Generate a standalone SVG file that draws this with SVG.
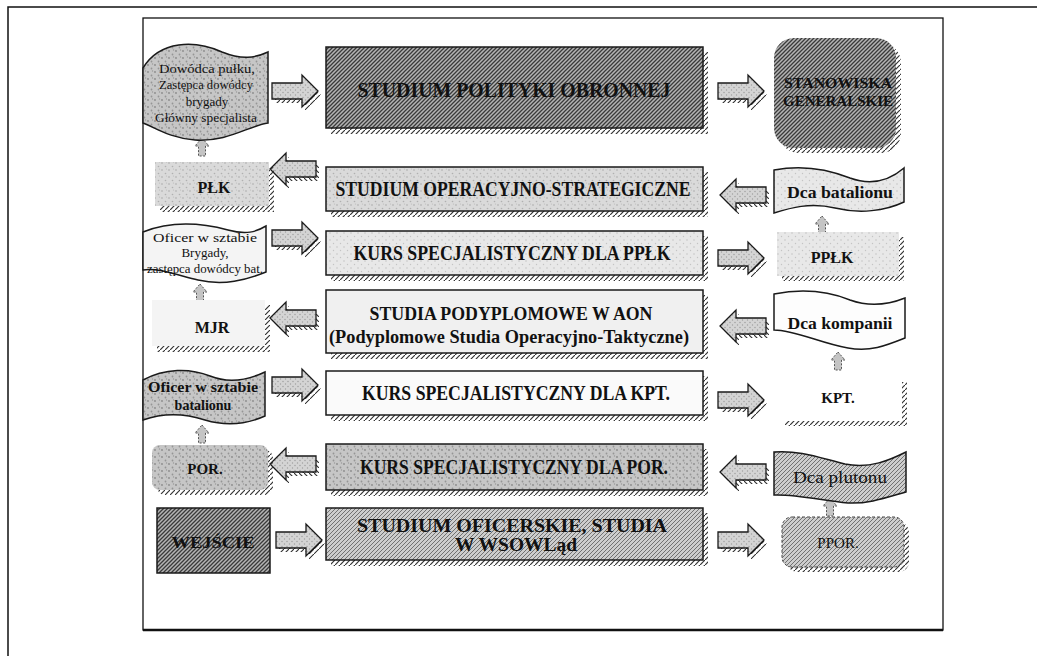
<svg xmlns="http://www.w3.org/2000/svg" xmlns:xlink="http://www.w3.org/1999/xlink" width="1037" height="656" viewBox="0 0 1037 656">
<style>
.t{font-family:"Liberation Serif","Times New Roman",serif;text-anchor:middle;fill:#111}
.b{font-weight:bold}
.bx{stroke:#1a1a1a;stroke-width:1.5}
.sh{fill:url(#ticks);stroke:none}
.arr{fill:url(#spkA);stroke:#1a1a1a;stroke-width:1.3}
.ash{fill:url(#ticks);stroke:none}
.up{fill:#c4c4c4;stroke:#555;stroke-width:1;stroke-dasharray:2 1.5}
</style>
<defs>
<pattern id="ticks" width="5" height="5" patternUnits="userSpaceOnUse"><path d="M0,5 L5,0" stroke="#333" stroke-width="1.2"/></pattern>
<pattern id="dk" width="4" height="4" patternUnits="userSpaceOnUse"><rect width="4" height="4" fill="#b4b4b4"/><path d="M0,4 L4,0 M-1,1 L1,-1 M3,5 L5,3" stroke="#3a3a3a" stroke-width="1.3"/></pattern>
<pattern id="md" width="4" height="4" patternUnits="userSpaceOnUse"><rect width="4" height="4" fill="#cdcdcd"/><path d="M0,4 L4,0 M-1,1 L1,-1 M3,5 L5,3" stroke="#666" stroke-width="0.9"/></pattern>
<pattern id="spk" width="7" height="7" patternUnits="userSpaceOnUse"><rect width="7" height="7" fill="#dadada"/><circle cx="1" cy="2" r="0.8" fill="#a8a8a8"/><circle cx="4.5" cy="5.5" r="0.8" fill="#b0b0b0"/><circle cx="5.5" cy="1" r="0.6" fill="#bbb"/></pattern>
<pattern id="spkL" width="7" height="7" patternUnits="userSpaceOnUse"><rect width="7" height="7" fill="#e8e8e8"/><circle cx="1" cy="2" r="0.7" fill="#bcbcbc"/><circle cx="4.5" cy="5.5" r="0.7" fill="#c4c4c4"/></pattern>
<pattern id="spkD" width="7" height="7" patternUnits="userSpaceOnUse"><rect width="7" height="7" fill="#c6c6c6"/><circle cx="1" cy="2" r="0.9" fill="#8a8a8a"/><circle cx="4.5" cy="5.5" r="0.9" fill="#959595"/><circle cx="5.5" cy="1" r="0.7" fill="#9a9a9a"/></pattern>
<pattern id="spkA" width="5" height="5" patternUnits="userSpaceOnUse"><rect width="5" height="5" fill="#d4d4d4"/><circle cx="1" cy="1.5" r="0.7" fill="#999"/><circle cx="3.5" cy="4" r="0.7" fill="#a0a0a0"/></pattern>
<path id="arrR" d="M0,-8 H30 V-16 L46,0 L30,16 V8 H0 Z"/>
<path id="upA" d="M0,0 L7,8 H3.5 V18 H-3.5 V8 H-7 Z"/>
</defs>

<g id="frame" fill="none" stroke="#111">
<path d="M8,656 V7 H1037" stroke-width="1.5"/>
<rect x="143" y="18" width="800" height="612" stroke-width="1.3"/>
<line x1="143" y1="630" x2="943" y2="630" stroke-width="2.5"/>
</g>

<g id="connectors">
<use xlink:href="#arrR" class="ash" transform="translate(275,95)"/><use xlink:href="#arrR" class="arr" transform="translate(272,91)"/>
<use xlink:href="#arrR" class="ash" transform="translate(721,95)"/><use xlink:href="#arrR" class="arr" transform="translate(718,91)"/>
<use xlink:href="#arrR" class="ash" transform="translate(319,173) scale(-1,1)"/><use xlink:href="#arrR" class="arr" transform="translate(316,169) scale(-1,1)"/>
<use xlink:href="#arrR" class="ash" transform="translate(769,199) scale(-1,1)"/><use xlink:href="#arrR" class="arr" transform="translate(766,195) scale(-1,1)"/>
<use xlink:href="#arrR" class="ash" transform="translate(275,242)"/><use xlink:href="#arrR" class="arr" transform="translate(272,238)"/>
<use xlink:href="#arrR" class="ash" transform="translate(721,262)"/><use xlink:href="#arrR" class="arr" transform="translate(718,258)"/>
<use xlink:href="#arrR" class="ash" transform="translate(319,322) scale(-1,1)"/><use xlink:href="#arrR" class="arr" transform="translate(316,318) scale(-1,1)"/>
<use xlink:href="#arrR" class="ash" transform="translate(769,330) scale(-1,1)"/><use xlink:href="#arrR" class="arr" transform="translate(766,326) scale(-1,1)"/>
<use xlink:href="#arrR" class="ash" transform="translate(275,389)"/><use xlink:href="#arrR" class="arr" transform="translate(272,385)"/>
<use xlink:href="#arrR" class="ash" transform="translate(721,404)"/><use xlink:href="#arrR" class="arr" transform="translate(718,400)"/>
<use xlink:href="#arrR" class="ash" transform="translate(319,468) scale(-1,1)"/><use xlink:href="#arrR" class="arr" transform="translate(316,464) scale(-1,1)"/>
<use xlink:href="#arrR" class="ash" transform="translate(769,476) scale(-1,1)"/><use xlink:href="#arrR" class="arr" transform="translate(766,472) scale(-1,1)"/>
<use xlink:href="#arrR" class="ash" transform="translate(279,544)"/><use xlink:href="#arrR" class="arr" transform="translate(276,540)"/>
<use xlink:href="#arrR" class="ash" transform="translate(721,544)"/><use xlink:href="#arrR" class="arr" transform="translate(718,540)"/>
<use xlink:href="#upA" class="up" transform="translate(202,138)"/>
<use xlink:href="#upA" class="up" transform="translate(822,216)"/>
<use xlink:href="#upA" class="up" transform="translate(200,284)"/>
<use xlink:href="#upA" class="up" transform="translate(838,352)"/>
<use xlink:href="#upA" class="up" transform="translate(202,425)"/>
<use xlink:href="#upA" class="up" transform="translate(830,498)"/>
</g>

<g id="n-polityki"><rect class="sh" x="331" y="52" width="377" height="82"/><rect class="bx" x="326" y="47" width="377" height="81" fill="url(#dk)"/>
<text class="t b" x="514" y="97" font-size="20" textLength="313" lengthAdjust="spacingAndGlyphs" fill="#2a2a2a">STUDIUM POLITYKI OBRONNEJ</text></g>
<g id="n-operacyjno"><rect class="sh" x="331" y="172" width="377" height="45"/><rect class="bx" x="326" y="167" width="377" height="44" fill="url(#spk)"/>
<text class="t b" x="513" y="196" font-size="20" textLength="355" lengthAdjust="spacingAndGlyphs">STUDIUM OPERACYJNO-STRATEGICZNE</text></g>
<g id="n-kurs-pplk"><rect class="sh" x="331" y="236" width="377" height="45"/><rect class="bx" x="326" y="231" width="377" height="44" fill="url(#spkL)"/>
<text class="t b" x="512" y="260" font-size="20" textLength="317" lengthAdjust="spacingAndGlyphs">KURS SPECJALISTYCZNY DLA PPŁK</text></g>
<g id="n-studia-aon"><rect class="sh" x="331" y="295" width="377" height="64"/><rect class="bx" x="326" y="290" width="377" height="63" fill="#f0f0f0"/>
<text class="t b" x="511" y="320" font-size="19" textLength="283" lengthAdjust="spacingAndGlyphs">STUDIA PODYPLOMOWE W AON</text>
<text class="t b" x="509" y="343" font-size="19" textLength="360" lengthAdjust="spacingAndGlyphs">(Podyplomowe Studia Operacyjno-Taktyczne)</text></g>
<g id="n-kurs-kpt"><rect class="sh" x="331" y="376" width="377" height="45"/><rect class="bx" x="326" y="371" width="377" height="44" fill="#fafafa"/>
<text class="t b" x="516" y="400" font-size="20" textLength="308" lengthAdjust="spacingAndGlyphs">KURS SPECJALISTYCZNY DLA KPT.</text></g>
<g id="n-kurs-por"><rect class="sh" x="331" y="449" width="377" height="47"/><rect class="bx" x="326" y="444" width="377" height="46" fill="url(#spkD)"/>
<text class="t b" x="514" y="474" font-size="20" textLength="308" lengthAdjust="spacingAndGlyphs" fill="#222">KURS SPECJALISTYCZNY DLA POR.</text></g>
<g id="n-oficerskie"><rect class="sh" x="331" y="513" width="377" height="53"/><rect class="bx" x="326" y="508" width="377" height="52" fill="url(#md)"/>
<text class="t b" x="512" y="532" font-size="19" textLength="310" lengthAdjust="spacingAndGlyphs" fill="#333">STUDIUM OFICERSKIE, STUDIA</text>
<text class="t b" x="516" y="551" font-size="19" textLength="122" lengthAdjust="spacingAndGlyphs" fill="#333">W WSOWLąd</text></g>

<g id="n-dowodca"><path class="bx" d="M143,68 C160,40 195,40 222,52 C242,60 255,58 268,52 L268,123 C248,126 228,142 195,140 C170,138 156,128 143,123 Z" fill="url(#spkD)"/>
<text class="t" x="207" y="73" font-size="13" textLength="96" lengthAdjust="spacingAndGlyphs">Dowódca pułku,</text>
<text class="t" x="206" y="89" font-size="13" textLength="94" lengthAdjust="spacingAndGlyphs">Zastępca dowódcy</text>
<text class="t" x="207" y="106" font-size="13">brygady</text>
<text class="t" x="206" y="122" font-size="13" textLength="102" lengthAdjust="spacingAndGlyphs">Główny specjalista</text></g>
<g id="n-plk"><rect class="sh" x="160" y="167" width="114" height="45"/><rect x="155" y="162" width="114" height="44" fill="url(#spk)"/>
<text class="t b" x="214" y="193" font-size="16">PŁK</text></g>
<g id="n-oficer-bryg"><path class="bx" d="M143,232 C168,222 198,222 228,230 C246,235 256,232 266,226 L266,272 C246,280 224,286 198,280 C174,274 158,268 143,270 Z" fill="#f4f4f4"/>
<text class="t" x="205" y="242" font-size="13" textLength="104" lengthAdjust="spacingAndGlyphs">Oficer  w sztabie</text>
<text class="t" x="205" y="257" font-size="13">Brygady,</text>
<text class="t" x="205" y="273" font-size="13" textLength="116" lengthAdjust="spacingAndGlyphs">zastępca dowódcy bat.</text></g>
<g id="n-mjr"><rect class="sh" x="157" y="305" width="113" height="47"/><rect x="152" y="300" width="113" height="46" fill="#f4f4f4"/>
<text class="t b" x="212" y="333" font-size="16">MJR</text></g>
<g id="n-oficer-bat"><path class="bx" d="M143,380 C165,368 190,368 210,376 C230,384 248,380 265,372 L265,416 C245,425 225,426 205,420 C180,412 160,414 143,420 Z" fill="url(#spkD)"/>
<text class="t b" x="203" y="392" font-size="14" textLength="110" lengthAdjust="spacingAndGlyphs">Oficer  w sztabie</text>
<text class="t b" x="203" y="410" font-size="14">batalionu</text></g>
<g id="n-por"><rect class="sh" x="157" y="450" width="116" height="45" rx="8"/><rect x="152" y="445" width="116" height="45" rx="8" fill="url(#spkD)"/>
<text class="t b" x="205" y="474" font-size="15">POR.</text></g>
<g id="n-wejscie"><rect class="bx" x="157" y="508" width="113" height="65" fill="url(#dk)"/>
<text class="t b" x="213" y="548" font-size="16" textLength="83" lengthAdjust="spacingAndGlyphs" fill="#333">WEJŚCIE</text></g>

<g id="n-stanowiska"><rect class="sh" x="779" y="43" width="122" height="110" rx="20"/><rect x="774" y="38" width="122" height="110" rx="20" fill="url(#dk)"/>
<text class="t b" x="838" y="88" font-size="15" textLength="108" lengthAdjust="spacingAndGlyphs" fill="#2a2a2a">STANOWISKA</text>
<text class="t b" x="838" y="106" font-size="15" textLength="110" lengthAdjust="spacingAndGlyphs" fill="#2a2a2a">GENERALSKIE</text></g>
<g id="n-dca-bat"><path class="bx" d="M774,170 C805,164 830,170 850,178 C872,186 890,180 904,168 L904,202 C885,211 860,214 835,208 C810,202 790,208 774,213 Z" fill="url(#spkL)"/>
<text class="t b" x="840" y="198" font-size="16" textLength="106" lengthAdjust="spacingAndGlyphs">Dca batalionu</text></g>
<g id="n-pplk"><rect class="sh" x="782" y="237" width="122" height="44"/><rect x="777" y="232" width="122" height="44" fill="url(#spkL)"/>
<text class="t b" x="832" y="263" font-size="16">PPŁK</text></g>
<g id="n-dca-komp"><path class="bx" d="M774,294 C805,288 830,292 850,300 C872,308 890,304 905,298 L905,338 C885,346 870,352 848,348 C820,343 795,330 774,330 Z" fill="#fdfdfd"/>
<text class="t b" x="840" y="329" font-size="16" textLength="105" lengthAdjust="spacingAndGlyphs">Dca kompanii</text></g>
<g id="n-kpt"><rect class="sh" x="785" y="382" width="122" height="44"/><rect x="780" y="377" width="122" height="44" fill="#ffffff"/>
<text class="t b" x="838" y="403" font-size="15">KPT.</text></g>
<g id="n-dca-plut"><path class="bx" d="M774,452 C800,450 820,458 845,464 C870,469 890,460 906,452 L906,492 C885,498 868,504 848,503 C820,500 795,494 774,495 Z" fill="url(#md)"/>
<text class="t" x="840" y="483" font-size="16" textLength="94" lengthAdjust="spacingAndGlyphs" fill="#222">Dca plutonu</text></g>
<g id="n-ppor"><rect class="sh" x="787" y="522" width="122" height="50" rx="10"/><rect x="782" y="517" width="122" height="50" rx="10" fill="url(#md)" stroke="#444" stroke-width="1" stroke-dasharray="3 2"/>
<text class="t" x="838" y="548" font-size="15" fill="#222">PPOR.</text></g>
</svg>
